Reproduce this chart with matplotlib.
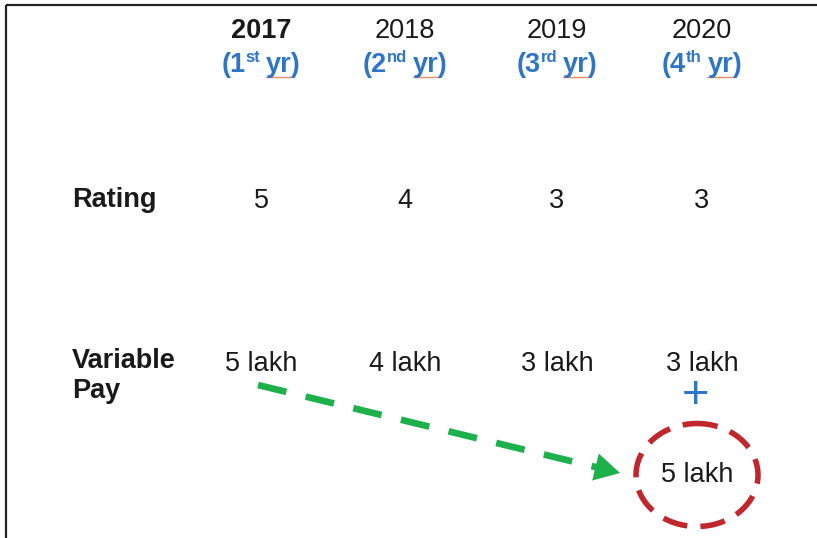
import matplotlib
matplotlib.use("Agg")
import matplotlib.pyplot as plt
from matplotlib.patches import Ellipse

plt.rcParams['font.family'] = ['Liberation Sans', 'DejaVu Sans']
plt.rcParams['lines.scale_dashes'] = False

# ---- data ----
years = ["2017", "2018", "2019", "2020"]
year_bold = [True, False, False, False]
year_nums = ["1", "2", "3", "4"]
year_sups = ["st", "nd", "rd", "th"]
ratings = ["5", "4", "3", "3"]
variable_pay = ["5 lakh", "4 lakh", "3 lakh", "3 lakh"]
carried_pay = "5 lakh"
row_labels = ["Rating", "Variable\nPay"]

# ---- layout ----
W, H = 817, 538
col_x = [261, 405, 557, 702]
BLACK = "#1a1a1a"
BLUE = "#2e75c6"
GREEN = "#1db04b"
RED = "#c0272d"
FS = 19.5

fig = plt.figure(figsize=(W / 100, H / 100), dpi=100)
ax = fig.add_axes([0, 0, 1, 1])
ax.set_xlim(0, W)
ax.set_ylim(H, 0)
ax.axis("off")

# frame (top and left border)
ax.plot([6, W], [4.5, 4.5], color="#222222", lw=1.6, solid_capstyle="butt")
ax.plot([6, 6], [4.5, H], color="#222222", lw=1.6, solid_capstyle="butt")

fig.canvas.draw()
renderer = fig.canvas.get_renderer()


def width_of(s, **kw):
    t = ax.text(0, 0, s, **kw)
    w = t.get_window_extent(renderer).width
    t.remove()
    return w

# header rows
for i, cx in enumerate(col_x):
    ax.text(cx, 38, years[i], ha="center", va="baseline", fontsize=FS,
            fontweight="bold" if year_bold[i] else "normal", color=BLACK)
    p1 = "(" + year_nums[i]
    p2 = year_sups[i]
    p3 = "yr)"
    kw_main = dict(fontsize=FS, fontweight="bold", color=BLUE)
    kw_sup = dict(fontsize=12, fontweight="bold", color=BLUE)
    w1 = width_of(p1, **kw_main)
    w2 = width_of(p2, **kw_sup)
    w3 = width_of(p3, **kw_main)
    wsp = 6
    wyr = width_of("yr", **kw_main)
    total = w1 + w2 + wsp + w3
    x0 = cx - total / 2
    ax.text(x0, 72, p1, ha="left", va="baseline", **kw_main)
    ax.text(x0 + w1 + 0.5, 62, p2, ha="left", va="baseline", **kw_sup)
    ax.text(x0 + w1 + w2 + wsp, 72, p3, ha="left", va="baseline", **kw_main)
    ux = x0 + w1 + w2 + wsp
    ax.plot([ux, ux + wyr], [76.5, 76.5], color="#f08a66", lw=1.0)

# row labels
ax.text(72, 207, row_labels[0], ha="left", va="baseline", fontsize=FS,
        fontweight="bold", color=BLACK)
ax.text(72, 368, row_labels[1].split("\n")[0], ha="left", va="baseline",
        fontsize=FS, fontweight="bold", color=BLACK)
ax.text(72, 398, row_labels[1].split("\n")[1], ha="left", va="baseline",
        fontsize=FS, fontweight="bold", color=BLACK)

# values
for i, cx in enumerate(col_x):
    ax.text(cx, 208, ratings[i], ha="center", va="baseline", fontsize=FS,
            color=BLACK)
    ax.text(cx, 371, variable_pay[i], ha="center", va="baseline",
            fontsize=FS, color=BLACK)

# plus sign
ax.text(col_x[3] - 6, 396, "+", ha="center", va="center", fontsize=34,
        fontweight="normal", color=BLUE)

# carried-over pay inside dashed circle
ecx, ecy = col_x[3] - 5, 475
ax.text(ecx, 482, carried_pay, ha="center", va="baseline", fontsize=FS,
        color=BLACK)
ell = Ellipse((ecx, ecy), 122, 103, fill=False, edgecolor=RED, lw=4.0,
              linestyle=(3, (18, 9.5)))
ax.add_patch(ell)

# green dashed arrow
x_start, y_start = 258, 385
x_tip, y_tip = 620, 473
dx, dy = x_tip - x_start, y_tip - y_start
L = (dx ** 2 + dy ** 2) ** 0.5
ux_, uy_ = dx / L, dy / L
head = 20
xb, yb = x_tip - head * ux_, y_tip - head * uy_
ax.plot([x_start, xb + 2 * ux_], [y_start, yb + 2 * uy_], color=GREEN,
        lw=4.8, linestyle=(0, (21, 14.3)), dash_capstyle="butt")
ax.annotate("", xy=(x_tip, y_tip), xytext=(xb, yb),
            arrowprops=dict(arrowstyle="-|>,head_length=1.0,head_width=0.55",
                            color=GREEN, lw=0.1, mutation_scale=18,
                            shrinkA=0, shrinkB=0))

fig.savefig("out.png", dpi=100)
